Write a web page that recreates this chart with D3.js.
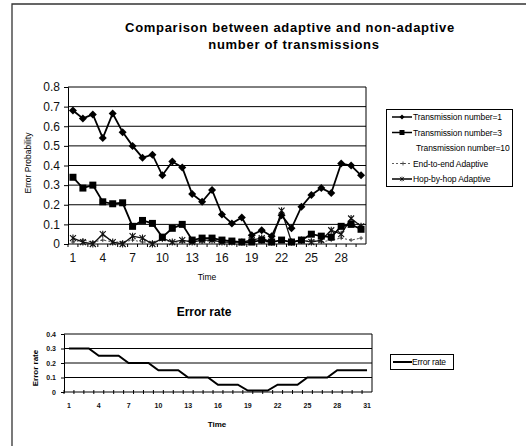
<!DOCTYPE html>
<html><head><meta charset="utf-8">
<script src="https://cdn.jsdelivr.net/npm/d3@7"></script>
<style>
html,body{margin:0;padding:0;background:#fff;}
svg{display:block;font-family:"Liberation Sans",Arial,sans-serif;}
</style></head>
<body><svg id="c" width="526" height="446"></svg>
<script>
// ---- data ----
const times = [1,2,3,4,5,6,7,8,9,10,11,12,13,14,15,16,17,18,19,20,21,22,23,24,25,26,27,28,29,30];
const timeTicks = [1,4,7,10,13,16,19,22,25,28];
const tx1 = [0.68,0.64,0.66,0.54,0.665,0.57,0.50,0.44,0.455,0.35,0.42,0.39,0.255,0.215,0.275,0.15,0.105,0.135,0.045,0.07,0.04,0.147,0.08,0.19,0.25,0.285,0.26,0.41,0.40,0.35];
const tx3 = [0.34,0.285,0.30,0.215,0.205,0.21,0.09,0.12,0.105,0.035,0.08,0.10,0.02,0.03,0.03,0.02,0.015,0.01,0.01,0.02,0.01,0.02,0.01,0.02,0.05,0.04,0.035,0.09,0.10,0.075];
const tx10 = [0.005,0.005,0.005,0.005,0.005,0.005,0.005,0.005,0.005,0.005,0.005,0.005,0.005,0.005,0.005,0.005,0.005,0.005,0.005,0.005,0.005,0.005,0.005,0.005,0.005,0.005,0.005,0.005,0.005,0.005];
const e2e = [0.01,0.02,0.01,0.02,0.01,0.01,0.02,0.01,0.01,0.02,0.01,0.01,0.02,0.01,0.02,0.01,0.01,0.01,0.02,0.01,0.01,0.02,0.01,0.01,0.02,0.01,0.02,0.03,0.02,0.03];
const hop = [0.03,0.01,0.0,0.05,0.01,0.0,0.04,0.03,0.0,0.03,0.01,0.02,0.01,0.02,0.02,0.01,0.01,0.01,0.02,0.03,0.01,0.17,0.01,0.02,0.01,0.02,0.07,0.05,0.13,0.09];
const probTicks = [0,0.1,0.2,0.3,0.4,0.5,0.6,0.7,0.8];
const seriesNames = ["Transmission number=1","Transmission number=3","Transmission number=10","End-to-end Adaptive","Hop-by-hop Adaptive"];

const times2 = [1,2,3,4,5,6,7,8,9,10,11,12,13,14,15,16,17,18,19,20,21,22,23,24,25,26,27,28,29,30,31];
const time2Ticks = [1,4,7,10,13,16,19,22,25,28,31];
const errRate = [0.3,0.3,0.3,0.25,0.25,0.25,0.2,0.2,0.2,0.15,0.15,0.15,0.1,0.1,0.1,0.05,0.05,0.05,0.01,0.01,0.01,0.05,0.05,0.05,0.1,0.1,0.1,0.15,0.15,0.15,0.15];
const rateTicks = [0,0.1,0.2,0.3,0.4];

const svg = d3.select("#c");
// frame
svg.append("path").attr("d","M12,446V4H526").attr("fill","none").attr("stroke","#333").attr("stroke-width",1.3);

// ---- main chart ----
const x = d3.scaleBand().domain(times).range([68,366]);
const bw = x.bandwidth();
const cx = d => x(d) + bw/2;
const y = d3.scaleLinear().domain([0,0.8]).range([244,87]);

svg.append("text").attr("x",290).attr("y",32).attr("text-anchor","middle")
  .attr("font-weight","bold").attr("font-size",13).attr("letter-spacing",0.7)
  .text("Comparison between adaptive and non-adaptive");
svg.append("text").attr("x",294).attr("y",49).attr("text-anchor","middle")
  .attr("font-weight","bold").attr("font-size",13).attr("letter-spacing",0.7)
  .text("number of transmissions");

// gridlines
svg.append("g").selectAll("line").data(probTicks.slice(1)).join("line")
  .attr("x1",68).attr("x2",366).attr("y1",d=>y(d)).attr("y2",d=>y(d))
  .attr("stroke","#000").attr("stroke-width",1);
svg.append("line").attr("x1",366).attr("x2",366).attr("y1",y(0.8)).attr("y2",y(0)).attr("stroke","#000");

const yAxis = d3.axisLeft(y).tickValues(probTicks).tickSize(4).tickPadding(4).tickFormat(d=>d===0?"0":d3.format(".1f")(d));
const gy = svg.append("g").attr("transform","translate(68,0)").call(yAxis);
gy.select(".domain").attr("stroke","#000");
gy.selectAll("text").attr("font-size",12).attr("fill","#111").attr("font-family","Liberation Sans, Arial, sans-serif");

const xAxis = d3.axisBottom(x).tickValues(timeTicks).tickSize(0).tickPadding(9);
const gx = svg.append("g").attr("transform","translate(0,244)").call(xAxis);
gx.select(".domain").remove();
gx.selectAll("text").attr("font-size",12).attr("fill","#111").attr("font-family","Liberation Sans, Arial, sans-serif");
svg.append("line").attr("x1",68).attr("x2",366).attr("y1",244).attr("y2",244).attr("stroke","#000");
svg.append("g").selectAll("line").data(times).join("line")
  .attr("x1",d=>x(d)).attr("x2",d=>x(d)).attr("y1",244).attr("y2",247).attr("stroke","#000");

svg.append("text").attr("x",207).attr("y",280).attr("text-anchor","middle").attr("font-size",8.5).text("Time");
svg.append("text").attr("transform","translate(31,163) rotate(-90)").attr("text-anchor","middle").attr("font-size",8.5).text("Error Probability");

const line = d3.line().x((d,i)=>cx(times[i])).y(d=>y(d));
const gS = svg.append("g");
// invisible series (no line in reference legend)
gS.append("path").attr("d",line(tx10)).attr("fill","none").attr("stroke","none");
// end-to-end
gS.append("path").attr("d",line(e2e)).attr("fill","none").attr("stroke","#222").attr("stroke-width",0.8).attr("stroke-dasharray","2,2");
gS.selectAll(".e2e").data(e2e).join("path").attr("class","e2e")
  .attr("transform",(d,i)=>`translate(${cx(times[i])},${y(d)})`)
  .attr("d","M-2,0H2M0,-2V2").attr("stroke","#222").attr("stroke-width",0.8);
// hop-by-hop
gS.append("path").attr("d",line(hop)).attr("fill","none").attr("stroke","#111").attr("stroke-width",1.3);
const star = "M-3,-3L3,3M-3,3L3,-3M0,-3.5V3.5";
gS.selectAll(".hop").data(hop).join("path").attr("class","hop")
  .attr("transform",(d,i)=>`translate(${cx(times[i])},${y(d)})`)
  .attr("d",star).attr("stroke","#111").attr("stroke-width",1.1);
// tx3
gS.append("path").attr("d",line(tx3)).attr("fill","none").attr("stroke","#000").attr("stroke-width",1.8);
gS.selectAll(".t3").data(tx3).join("rect").attr("class","t3")
  .attr("x",(d,i)=>cx(times[i])-3.5).attr("y",d=>y(d)-3.5).attr("width",7).attr("height",7).attr("fill","#000");
// tx1
gS.append("path").attr("d",line(tx1)).attr("fill","none").attr("stroke","#000").attr("stroke-width",1.8);
gS.selectAll(".t1").data(tx1).join("path").attr("class","t1")
  .attr("transform",(d,i)=>`translate(${cx(times[i])},${y(d)})`)
  .attr("d","M0,-4L4,0L0,4L-4,0Z").attr("fill","#000");

// legend
const lg = svg.append("g");
lg.append("rect").attr("x",386.5).attr("y",109.5).attr("width",126).attr("height",77).attr("fill","#fff").attr("stroke","#000");
const ly = i => 117 + i*15.5;
seriesNames.forEach((n,i)=>{
  lg.append("text").attr("x", i===2?416:413).attr("y",ly(i)+3.1).attr("font-size",8.5).attr("letter-spacing",-0.1).text(n);
});
lg.append("line").attr("x1",392).attr("x2",412).attr("y1",ly(0)).attr("y2",ly(0)).attr("stroke","#000").attr("stroke-width",1.5);
lg.append("path").attr("transform",`translate(402,${ly(0)})`).attr("d","M0,-2.5L2.5,0L0,2.5L-2.5,0Z");
lg.append("line").attr("x1",392).attr("x2",412).attr("y1",ly(1)).attr("y2",ly(1)).attr("stroke","#000").attr("stroke-width",1.5);
lg.append("rect").attr("x",399.5).attr("y",ly(1)-2.5).attr("width",5).attr("height",5);
lg.append("line").attr("x1",392).attr("x2",412).attr("y1",ly(3)).attr("y2",ly(3)).attr("stroke","#333").attr("stroke-width",0.8).attr("stroke-dasharray","2,2");
lg.append("path").attr("transform",`translate(403,${ly(3)})`).attr("d","M-2,0H2M0,-2V2").attr("stroke","#333").attr("stroke-width",0.8);
lg.append("line").attr("x1",392).attr("x2",412).attr("y1",ly(4)).attr("y2",ly(4)).attr("stroke","#000").attr("stroke-width",1.5);
lg.append("path").attr("transform",`translate(402,${ly(4)}) scale(0.7)`).attr("d",star).attr("stroke","#000");

// ---- bottom chart ----
const x2 = d3.scaleBand().domain(times2).range([64,372]);
const bw2 = x2.bandwidth();
const cx2 = d => x2(d) + bw2/2;
const y2 = d3.scaleLinear().domain([0,0.4]).range([392,334]);

svg.append("text").attr("x",204).attr("y",316).attr("text-anchor","middle").attr("font-weight","bold").attr("font-size",12).text("Error rate");

svg.append("g").selectAll("line").data(rateTicks.slice(1)).join("line")
  .attr("x1",64).attr("x2",372).attr("y1",d=>y2(d)).attr("y2",d=>y2(d)).attr("stroke","#000");
svg.append("line").attr("x1",372).attr("x2",372).attr("y1",y2(0.4)).attr("y2",y2(0)).attr("stroke","#000");
const gy2 = svg.append("g").attr("transform","translate(64,0)")
  .call(d3.axisLeft(y2).tickValues(rateTicks).tickSize(3).tickPadding(5).tickFormat(d=>d===0?"0":d3.format(".1f")(d)));
gy2.select(".domain").attr("stroke","#000");
gy2.selectAll("text").attr("font-size",7).attr("font-weight","bold").attr("fill","#111").attr("font-family","Liberation Sans, Arial, sans-serif");
const gx2 = svg.append("g").attr("transform","translate(0,392)")
  .call(d3.axisBottom(x2).tickValues(time2Ticks).tickSize(0).tickPadding(11));
gx2.select(".domain").remove();
gx2.selectAll("text").attr("font-size",7).attr("font-weight","bold").attr("fill","#111").attr("font-family","Liberation Sans, Arial, sans-serif");
svg.append("line").attr("x1",64).attr("x2",372).attr("y1",392).attr("y2",392).attr("stroke","#000");
svg.append("g").selectAll("line").data(times2).join("line")
  .attr("x1",d=>x2(d)).attr("x2",d=>x2(d)).attr("y1",390).attr("y2",394).attr("stroke","#000");

svg.append("text").attr("x",217).attr("y",427).attr("text-anchor","middle").attr("font-size",8).attr("font-weight","bold").text("Time");
svg.append("text").attr("transform","translate(38,368) rotate(-90)").attr("text-anchor","middle").attr("font-size",8).attr("font-weight","bold").text("Error rate");

const line2 = d3.line().x((d,i)=>cx2(times2[i])).y(d=>y2(d));
svg.append("path").attr("d",line2(errRate)).attr("fill","none").attr("stroke","#000").attr("stroke-width",2);

svg.append("rect").attr("x",390.5).attr("y",354.5).attr("width",63).attr("height",15).attr("fill","#fff").attr("stroke","#000");
svg.append("line").attr("x1",393).attr("x2",412).attr("y1",362).attr("y2",362).attr("stroke","#000").attr("stroke-width",2);
svg.append("text").attr("x",412).attr("y",365).attr("font-size",8.5).attr("letter-spacing",-0.2).text("Error rate");
</script></body></html>
